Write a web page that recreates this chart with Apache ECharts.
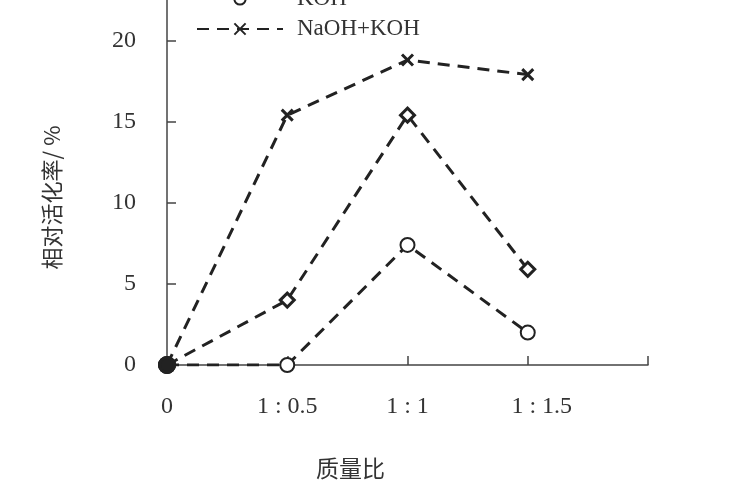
<!DOCTYPE html>
<html>
<head>
<meta charset="utf-8">
<script src="https://cdn.jsdelivr.net/npm/echarts@6/dist/echarts.min.js"></script>
<style>html,body{margin:0;padding:0;background:#fff;}#c{width:750px;height:500px;}</style>
</head>
<body>
<div id="c"></div>
<script>
var categories = ['0', '1 : 0.5', '1 : 1', '1 : 1.5', ''];
var seriesNames = ['NaOH', 'KOH', 'NaOH+KOH'];
var naohValues = [0, 4.0, 15.4, 5.9];
var kohValues = [0, 0, 7.4, 2.0];
var mixValues = [0, 15.4, 18.8, 17.9];
var yTicks = [0, 5, 10, 15, 20];

var serif = '"Liberation Serif", "Times New Roman", "Noto Sans CJK SC", serif';
var ink = '#222';
var xPath = 'path://M0,0L10,10M10,0L0,10';

function mk(name, values, symbol, size, fill) {
  return {
    name: name,
    type: 'line',
    data: values.map(function (v, i) {
      return i === 0 ? { value: v, symbol: 'circle', symbolSize: 15, itemStyle: { color: ink, borderColor: ink } } : v;
    }),
    symbol: symbol,
    symbolSize: size,
    showAllSymbol: true,
    lineStyle: { color: ink, width: 3, type: [12, 8] },
    itemStyle: { color: fill, borderColor: ink, borderWidth: 3 },
    z: 3
  };
}

var xData = categories.map(function (c, i) {
  return i === 3 ? { value: c, textStyle: { padding: [0, 0, 0, 28] } } : c;
});

var chart = echarts.init(document.getElementById('c'));
chart.setOption({
  animation: false,
  backgroundColor: '#fff',
  grid: { left: 167, right: 102, top: 0, bottom: 135 },
  legend: {
    orient: 'vertical',
    left: 191,
    top: -48,
    itemWidth: 86,
    itemHeight: 14,
    itemGap: 6,
    data: seriesNames,
    textStyle: { fontFamily: serif, fontSize: 23, color: '#333', lineHeight: 24, padding: [0, 0, 0, 9] }
  },
  xAxis: {
    type: 'category',
    data: xData,
    boundaryGap: false,
    axisLine: { lineStyle: { color: '#444', width: 1.5 } },
    axisTick: { inside: true, length: 9, lineStyle: { color: '#444', width: 1.5 } },
    axisLabel: { margin: 30, fontFamily: serif, fontSize: 24, color: '#333' },
    name: '质量比',
    nameLocation: 'middle',
    nameGap: 92,
    nameTextStyle: { fontFamily: '"Noto Sans CJK SC", sans-serif', fontSize: 23, color: '#333', padding: [0, 114, 0, 0] }
  },
  yAxis: {
    type: 'value',
    min: 0,
    max: 22.5,
    interval: 5,
    splitLine: { show: false },
    axisLine: { show: true, lineStyle: { color: '#444', width: 1.5 } },
    axisTick: { show: true, inside: true, length: 9, customValues: yTicks, lineStyle: { color: '#444', width: 1.5 } },
    axisLabel: { margin: 31, fontFamily: serif, fontSize: 24, color: '#333', customValues: yTicks },
    name: '相对活化率/ %',
    nameLocation: 'middle',
    nameGap: 104,
    nameTextStyle: { fontFamily: '"Noto Sans CJK SC", sans-serif', fontSize: 22, color: '#333', padding: [0, 30, 0, 0] }
  },
  series: [
    mk(seriesNames[0], naohValues, 'diamond', 14, '#fff'),
    mk(seriesNames[1], kohValues, 'emptyCircle', 14, ink),
    mk(seriesNames[2], mixValues, xPath, 11, 'transparent')
  ]
});
</script>
</body>
</html>
